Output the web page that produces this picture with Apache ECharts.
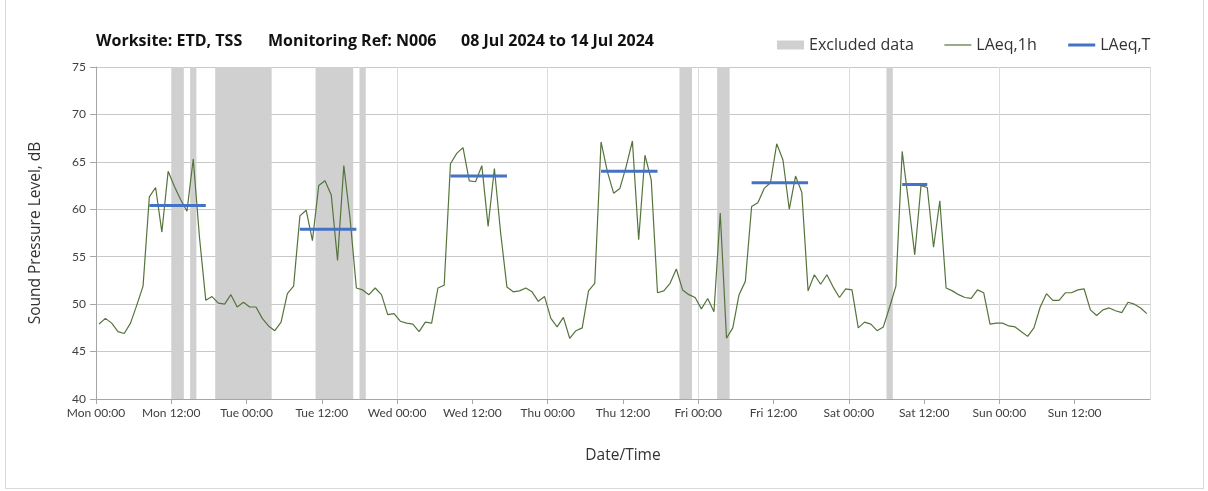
<!DOCTYPE html>
<html>
<head>
<meta charset="utf-8">
<script src="https://cdn.jsdelivr.net/npm/echarts@6/dist/echarts.min.js"></script>
<style>
    html, body {
        margin: 0;
        padding: 0;
        background: #fff;
    }
    #frame {
        position: absolute;
        left: 5px;
        top: -1px;
        width: 1197px;
        height: 488px;
        border: 1px solid #d9d9d9;
    }
    #myChart {
        width: 1208px;
        height: 491px;
    }
</style>
</head>
<body>
<div id="frame"></div>
<div id="myChart" style="position:absolute;left:0;top:0;"></div>

<script>
    // tick labels
    var dayNames = ['Mon', 'Tue', 'Wed', 'Thu', 'Fri', 'Sat', 'Sun']

    // title pieces
    var titleParts = ['Worksite: ETD, TSS', 'Monitoring Ref: N006', '08 Jul 2024 to 14 Jul 2024']

    // LAeq,1h - one value per hour, Mon 00:00 .. Sun 23:00
    var hourly = [
        47.9, 48.5, 48.0, 47.1, 46.9, 48.0, 49.9, 51.9, 61.3, 62.3, 57.6, 64.0,
        62.4, 61.0, 59.8, 65.3, 57.0, 50.4, 50.8, 50.1, 50.0, 51.0, 49.7, 50.2,
        49.7, 49.7, 48.5, 47.7, 47.2, 48.1, 51.1, 51.9, 59.3, 59.9, 56.7, 62.5,
        63.0, 61.5, 54.6, 64.6, 59.0, 51.7, 51.5, 51.0, 51.7, 51.0, 48.9, 49.0,
        48.2, 48.0, 47.9, 47.1, 48.1, 48.0, 51.7, 52.0, 64.8, 65.9, 66.5, 63.0,
        62.9, 64.6, 58.2, 64.3, 57.5, 51.8, 51.3, 51.4, 51.7, 51.3, 50.3, 50.8,
        48.5, 47.6, 48.6, 46.4, 47.2, 47.5, 51.4, 52.2, 67.1, 64.0, 61.7, 62.2,
        64.5, 67.2, 56.8, 65.7, 63.1, 51.2, 51.4, 52.2, 53.7, 51.5, 51.0, 50.7,
        49.5, 50.6, 49.2, 59.6, 46.4, 47.5, 51.0, 52.4, 60.3, 60.7, 62.2, 62.8,
        66.9, 65.2, 60.0, 63.5, 61.8, 51.4, 53.1, 52.1, 53.1, 51.8, 50.7, 51.6,
        51.5, 47.5, 48.1, 47.9, 47.2, 47.6, 49.7, 51.9, 66.1, 60.8, 55.2, 62.5,
        62.3, 56.0, 60.9, 51.7, 51.4, 51.0, 50.7, 50.6, 51.5, 51.2, 47.9, 48.0,
        48.0, 47.7, 47.6, 47.1, 46.6, 47.5, 49.7, 51.1, 50.4, 50.4, 51.2, 51.2,
        51.5, 51.6, 49.4, 48.8, 49.4, 49.6, 49.3, 49.1, 50.2, 50.0, 49.6, 49.0
    ]

    // LAeq,T - period start / end (hours from Mon 00:00) and level
    var periodStart = [8.5, 32.5, 56.5, 80.5, 104.5, 128.5]
    var periodEnd   = [17.5, 41.5, 65.5, 89.5, 113.5, 132.5]
    var periodLevel = [60.4, 57.9, 63.5, 64.0, 62.8, 62.6]

    // excluded data, hours from Mon 00:00
    var excludedFrom = [12, 15, 19, 35, 42, 93, 99, 126]
    var excludedTo   = [14, 16, 28, 41, 43, 95, 101, 127]

    var fontName = 'Lato'
    var textFont = 'Open Sans'

    var lineData = hourly.map(function (v, i) { return [i + 0.5, v] })

    var bands = excludedFrom.map(function (f, i) {
        return [{ xAxis: f }, { xAxis: excludedTo[i] }]
    })

    var series = [
        {
            name: 'Excluded data',
            type: 'bar',
            data: [],
            itemStyle: { color: '#d0d0d0' },
            markArea: {
                silent: true,
                itemStyle: { color: '#d0d0d0' },
                data: bands
            }
        },
        {
            name: 'LAeq,1h',
            type: 'line',
            data: lineData,
            symbol: 'none',
            z: 3,
            lineStyle: { color: '#55743c', width: 1.2 },
            itemStyle: { color: '#55743c' }
        }
    ]

    periodStart.forEach(function (s, i) {
        series.push({
            name: 'LAeq,T',
            type: 'line',
            data: [[s, periodLevel[i]], [periodEnd[i], periodLevel[i]]],
            symbol: 'none',
            z: 4,
            lineStyle: { color: '#4472c4', width: 3 },
            itemStyle: { color: '#4472c4' }
        })
    })

    // title split in three so the gaps match
    var titleLeft = [91, 263, 456]
    var titles = titleParts.map(function (t, i) {
        return {
            text: t,
            left: titleLeft[i],
            top: 28,
            textStyle: {
                fontFamily: textFont,
                fontSize: 16,
                fontWeight: 'bold',
                color: '#111'
            }
        }
    })

    var myChart = echarts.init(document.getElementById('myChart'))

    myChart.setOption({
        animation: false,
        textStyle: { fontFamily: fontName },
        title: titles,
        legend: {
            left: 772,
            top: 32,
            itemWidth: 27,
            itemHeight: 9,
            itemGap: 30,
            textStyle: { fontFamily: textFont, fontSize: 16, color: '#333' },
            data: [
                { name: 'Excluded data', icon: 'rect' },
                { name: 'LAeq,1h', itemStyle: { opacity: 0 }, lineStyle: { width: 1.2 } },
                { name: 'LAeq,T', itemStyle: { opacity: 0 }, lineStyle: { width: 3 } }
            ]
        },
        grid: {
            left: 96,
            right: 58,
            top: 67,
            bottom: 92
        },
        xAxis: {
            type: 'value',
            min: 0,
            max: 168,
            interval: 12,
            name: 'Date/Time',
            nameLocation: 'middle',
            nameGap: 49,
            nameTextStyle: { fontFamily: textFont, fontSize: 15.5, color: '#333' },
            axisLine: { lineStyle: { color: '#a6a6a6' } },
            axisTick: { show: true, length: 5, lineStyle: { color: '#a6a6a6' } },
            axisLabel: {
                showMaxLabel: false,
                margin: 8,
                fontSize: 12,
                color: '#404040',
                formatter: function (v) {
                    var d = Math.floor(v / 24)
                    return dayNames[d] + ' ' + (v % 24 === 0 ? '00:00' : '12:00')
                }
            },
            splitLine: {
                show: true,
                lineStyle: { color: ['#dcdcdc', 'rgba(0,0,0,0)'], width: 1 }
            }
        },
        yAxis: {
            type: 'value',
            min: 40,
            max: 75,
            interval: 5,
            name: 'Sound Pressure Level, dB',
            nameLocation: 'middle',
            nameGap: 52,
            nameTextStyle: { fontFamily: textFont, fontSize: 15.5, color: '#333' },
            axisLine: { show: true, lineStyle: { color: '#a6a6a6' } },
            axisTick: { show: true, length: 6, lineStyle: { color: '#a6a6a6' } },
            axisLabel: { fontSize: 12, color: '#404040', margin: 10 },
            splitLine: { lineStyle: { color: '#c8c8c8' } }
        },
        series: series
    })
</script>
</body>
</html>
